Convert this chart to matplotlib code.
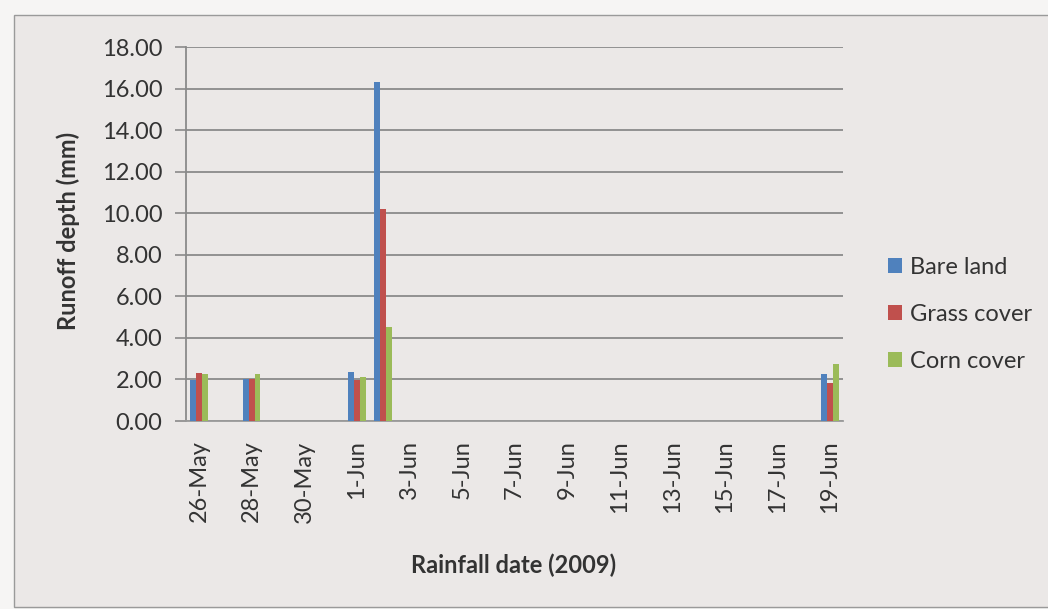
import numpy as np
import pandas as pd
import matplotlib
matplotlib.use("Agg")
import matplotlib.pyplot as plt
import matplotlib.dates as mdates
from matplotlib.patches import Rectangle

# Runoff depth (mm) per rainfall event
rain_dates = pd.to_datetime(["2009-05-26", "2009-05-28", "2009-06-01", "2009-06-02", "2009-06-19"])
bare_land = [1.98, 2.02, 2.37, 16.32, 2.25]
grass_cover = [2.30, 2.02, 1.97, 10.20, 1.81]
corn_cover = [2.28, 2.27, 2.13, 4.53, 2.74]

series_names = ["Bare land", "Grass cover", "Corn cover"]
series_colors = ["#4F81BD", "#C0504D", "#9BBB59"]

plt.rcParams["font.family"] = ["Lato", "DejaVu Sans"]
fs = 17

fig = plt.figure(figsize=(10.48, 6.09), dpi=100)
fig.patch.set_facecolor("#f6f5f4")

# chart area frame (like the Excel chart border), kept behind the axes
fig.patches.append(Rectangle((0.013, 0.003), 0.99, 0.972, transform=fig.transFigure,
                             facecolor="#ebe8e7", edgecolor="#9a9a9a", linewidth=1.0, zorder=-10))

ax = fig.add_axes([0.1775, 0.3087, 0.6269, 0.6141])
ax.set_facecolor("#ebe8e7")

# bars placed on a real date axis, three series side by side
x = mdates.date2num(rain_dates)
w = 0.22
for i, (vals, name, col) in enumerate(zip([bare_land, grass_cover, corn_cover], series_names, series_colors)):
    ax.bar(x + (i - 1) * w, vals, width=w, color=col, label=name, zorder=3)

start = mdates.date2num(pd.Timestamp("2009-05-26"))
end = mdates.date2num(pd.Timestamp("2009-06-19"))
ax.set_xlim(start - 0.5, end + 0.5)
ax.set_ylim(0, 18)

ax.set_xticks(np.arange(start, end + 1, 2))
ax.xaxis.set_major_formatter(plt.FuncFormatter(
    lambda v, pos: "%d-%s" % (mdates.num2date(v).day, mdates.num2date(v).strftime("%b"))))
ax.set_yticks(np.arange(0, 18.01, 2))
ax.yaxis.set_major_formatter(plt.FuncFormatter(lambda v, pos: "%.2f" % v))

ax.tick_params(axis="x", rotation=90, length=0, pad=14, labelsize=fs, colors="#333333")
ax.tick_params(axis="y", length=8, width=1.2, color="#8a8a8a", pad=9, labelsize=fs, labelcolor="#333333")

ax.grid(axis="y", color="#8a8a8a", linewidth=1.3, zorder=1)
for side in ["top", "right"]:
    ax.spines[side].set_visible(False)
ax.spines["left"].set_color("#8a8a8a")
ax.spines["left"].set_linewidth(1.3)
ax.spines["bottom"].set_color("#9a9a9a")
ax.spines["bottom"].set_linewidth(1.3)

fig.text(0.49, 0.072, "Rainfall date (2009)", ha="center", va="center",
         fontsize=fs, fontweight="bold", color="#333333")
fig.text(0.065, 0.621, "Runoff depth (mm)", ha="center", va="center", rotation=90,
         fontsize=fs, fontweight="bold", color="#333333")

ax.legend(loc="center left", bbox_to_anchor=(0.827, 0.484), bbox_transform=fig.transFigure,
          frameon=False, fontsize=fs, labelspacing=1.1, handlelength=0.6, handleheight=0.6,
          handletextpad=0.35, labelcolor="#333333")

fig.savefig("out.png", dpi=100, facecolor=fig.get_facecolor())
